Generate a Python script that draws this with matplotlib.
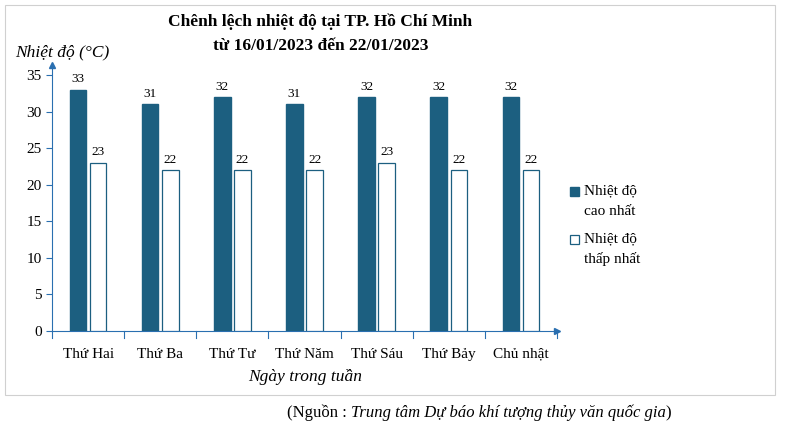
import numpy as np
import matplotlib.pyplot as plt
from matplotlib.patches import Rectangle

days = ['Thứ Hai', 'Thứ Ba', 'Thứ Tư', 'Thứ Năm', 'Thứ Sáu', 'Thứ Bảy', 'Chủ nhật']
t_max = [33, 31, 32, 31, 32, 32, 32]
t_min = [23, 22, 22, 22, 23, 22, 22]
y_ticks = [0, 5, 10, 15, 20, 25, 30, 35]

plt.rcParams['font.family'] = 'Liberation Serif'
W, H = 787, 432
fig = plt.figure(figsize=(W / 100, H / 100), dpi=100)

# outer frame
fig.patches.append(Rectangle((5 / W, 1 - 395 / H), 770 / W, 390 / H, transform=fig.transFigure,
                             fill=False, edgecolor='#d0d0d0', lw=0.8))

ax = fig.add_axes([52 / W, 1 - 331 / H, 505 / W, 256 / H])
x = np.arange(len(days))
w = 0.23
dark = '#1c5f80'
edge = '#2a6fb0'
ax.bar(x - 0.14, t_max, w, color=dark, edgecolor=dark, zorder=3)
ax.bar(x + 0.14, t_min, w, color='white', edgecolor=dark, lw=0.9, zorder=3)
for i in range(len(days)):
    ax.text(x[i] - 0.14, t_max[i] + 0.6, str(t_max[i]), ha='center', va='bottom', fontsize=9.5)
    ax.text(x[i] + 0.14, t_min[i] + 0.6, str(t_min[i]), ha='center', va='bottom', fontsize=9.5)

ax.set_xlim(-0.5, 6.5)
ax.set_ylim(0, 35)
ax.set_yticks(y_ticks)
ax.set_xticks(x)
ax.set_xticklabels(days, fontsize=11)
ax.tick_params(axis='y', labelsize=11, color=edge, length=4)
ax.tick_params(axis='x', length=0, pad=12)
for s in ['top', 'right']:
    ax.spines[s].set_visible(False)
ax.spines['left'].set_color(edge)
ax.spines['bottom'].set_color(edge)
ax.plot(1, 0, '>', color=edge, ms=5, transform=ax.transAxes, clip_on=False)
ax.plot(0, 1.04, '^', color=edge, ms=5, transform=ax.transAxes, clip_on=False)
ax.spines['left'].set_bounds(0, 36.4)
for xx in np.arange(-0.5, 7.0, 1.0):
    ax.plot([xx, xx], [0, -0.9], color=edge, lw=0.8, clip_on=False)

fig.text(0.407, 1 - 22 / H, 'Chênh lệch nhiệt độ tại TP. Hồ Chí Minh', ha='center', va='center',
         fontsize=12.5, fontweight='bold')
fig.text(0.407, 1 - 46 / H, 'từ 16/01/2023 đến 22/01/2023', ha='center', va='center',
         fontsize=12.5, fontweight='bold')
fig.text(15 / W, 1 - 52 / H, 'Nhiệt độ (°C)', ha='left', va='center', fontsize=12.5, style='italic')
fig.text(305 / W, 1 - 377 / H, 'Ngày trong tuần', ha='center', va='center', fontsize=12.5, style='italic')

# source line built from three pieces
t1 = fig.text(287 / W, 1 - 413 / H, '(Nguồn : ', ha='left', va='center', fontsize=12)
t2 = fig.text(0, 0, 'Trung tâm Dự báo khí tượng thủy văn quốc gia', fontsize=12, style='italic',
              ha='left', va='center')
t2.set_position((0, 0))
t2.remove()
a2 = fig.text(0, 0, '')
a2.remove()
ann = plt.annotate('Trung tâm Dự báo khí tượng thủy văn quốc gia', xy=(1, 0.5), xycoords=t1,
                   ha='left', va='center', fontsize=12, style='italic', annotation_clip=False)
plt.annotate(')', xy=(1, 0.5), xycoords=ann, ha='left', va='center', fontsize=12, annotation_clip=False)

# legend
fig.patches.append(Rectangle((570 / W, 1 - 196 / H), 9 / W, 9 / H, transform=fig.transFigure,
                             facecolor=dark, edgecolor=dark))
fig.text(584 / W, 1 - 191 / H, 'Nhiệt độ', fontsize=11, va='center')
fig.text(584 / W, 1 - 212 / H, 'cao nhất', fontsize=11, va='center')
fig.patches.append(Rectangle((570 / W, 1 - 244 / H), 9 / W, 9 / H, transform=fig.transFigure,
                             facecolor='white', edgecolor=dark, lw=0.9))
fig.text(584 / W, 1 - 239 / H, 'Nhiệt độ', fontsize=11, va='center')
fig.text(584 / W, 1 - 259 / H, 'thấp nhất', fontsize=11, va='center')

fig.savefig('out.png', dpi=100)
